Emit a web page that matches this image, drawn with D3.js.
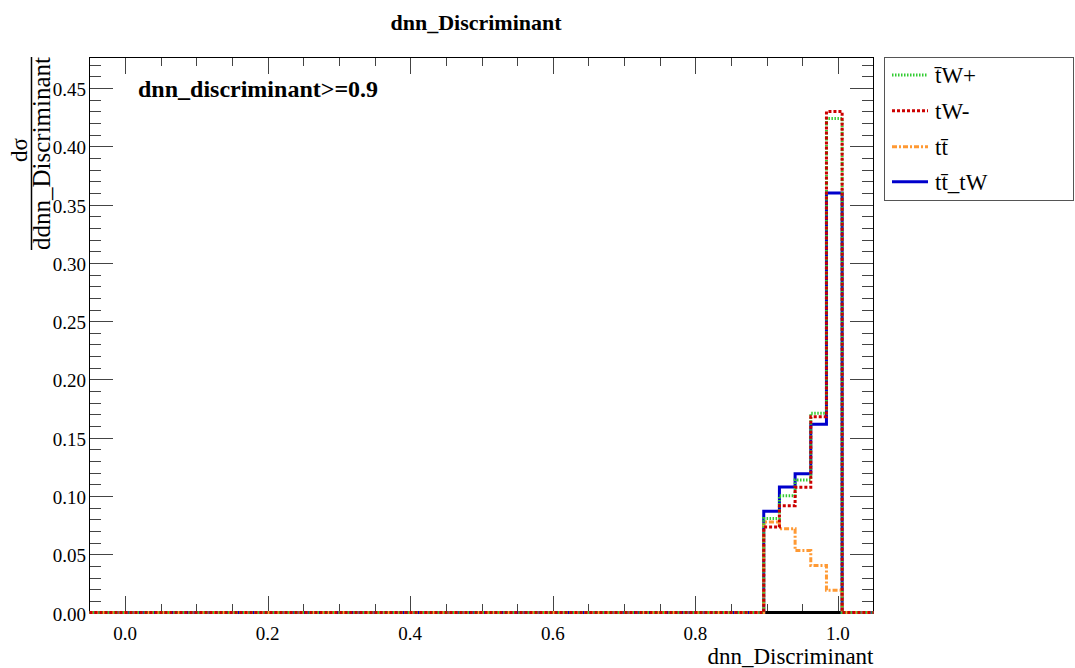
<!DOCTYPE html>
<html>
<head>
<meta charset="utf-8">
<script src="https://cdn.jsdelivr.net/npm/d3@7"></script>
<style>
  html, body { margin: 0; padding: 0; background: #fff; }
  svg { display: block; }
</style>
</head>
<body>
<svg id="chart" width="1075" height="668"></svg>
<script>
// ---------------- data ----------------
const chartTitle = "dnn_Discriminant";
const xLabel = "dnn_Discriminant";
const yNumerator = "dσ";
const yDenominator = "ddnn_Discriminant";
const cutLabel = "dnn_discriminant>=0.9";

const nBins = 50;
const xMin = -0.05;
const xMax = 1.05;
const yMax = 0.4763;

const xTickValues = [0.0, 0.2, 0.4, 0.6, 0.8, 1.0];
const xTickLabels = ["0.0", "0.2", "0.4", "0.6", "0.8", "1.0"];
const yTickValues = [0.00, 0.05, 0.10, 0.15, 0.20, 0.25, 0.30, 0.35, 0.40, 0.45];
const yTickLabels = ["0.00", "0.05", "0.10", "0.15", "0.20", "0.25", "0.30", "0.35", "0.40", "0.45"];

const seriesNames = ["t\u0304W+", "tW-", "tt\u0304", "tt\u0304_tW"];

// bin contents (50 bins from -0.05 to 1.05)
const tWplus = [0,0,0,0,0,0,0,0,0,0, 0,0,0,0,0,0,0,0,0,0, 0,0,0,0,0,0,0,0,0,0, 0,0,0,0,0,0,0,0,0,0, 0,0,0,0.0806,0.1003,0.1137,0.171,0.424,0,0];
const tWminus = [0,0,0,0,0,0,0,0,0,0, 0,0,0,0,0,0,0,0,0,0, 0,0,0,0,0,0,0,0,0,0, 0,0,0,0,0,0,0,0,0,0, 0,0,0,0.0733,0.0916,0.1074,0.168,0.430,0,0];
const ttbar = [0,0,0,0,0,0,0,0,0,0, 0,0,0,0,0,0,0,0,0,0, 0,0,0,0,0,0,0,0,0,0, 0,0,0,0,0,0,0,0,0,0, 0,0,0,0.0777,0.0718,0.0532,0.0404,0.019,0,0];
const tttW = [0,0,0,0,0,0,0,0,0,0, 0,0,0,0,0,0,0,0,0,0, 0,0,0,0,0,0,0,0,0,0, 0,0,0,0,0,0,0,0,0,0, 0,0,0,0.087,0.1078,0.119,0.1616,0.360,0,0];

// ---------------- layout ----------------
const FONT = "Liberation Serif";
const frame = { left: 89.5, right: 873.5, top: 57.5, bottom: 612.5 };
const svg = d3.select("#chart");

const x = d3.scaleLinear().domain([xMin, xMax]).range([frame.left, frame.right]);
const y = d3.scaleLinear().domain([0, yMax]).range([frame.bottom, frame.top]);

const binWidth = (xMax - xMin) / nBins;
const edges = d3.range(nBins + 1).map(i => xMin + i * binWidth);

const styles = [
  { data: tWplus,  color: "#33cc33", dash: "1.5,1.5", name: seriesNames[0] },
  { data: tWminus, color: "#cc0000", dash: "3,2",     name: seriesNames[1] },
  { data: ttbar,   color: "#ff9933", dash: "5,2,2,2", name: seriesNames[2] },
  { data: tttW,    color: "#0000cc", dash: null,      name: seriesNames[3] }
];

// ---------------- frame & ticks ----------------
const W = frame.right - frame.left;
const H = frame.bottom - frame.top;
const yMajorLen = 0.03 * W, yMinorLen = yMajorLen / 2;
const xMajorLen = 0.03 * H, xMinorLen = xMajorLen / 2;

const gAxes = svg.append("g").attr("shape-rendering", "crispEdges");

const yMinor = d3.range(0, yMax, 0.01).filter(v => Math.round(v * 100) % 5 !== 0);
[["left", 1], ["right", -1]].forEach(([side, dir]) => {
  const px = side === "left" ? frame.left : frame.right;
  const axM = dir === 1 ? d3.axisRight(y) : d3.axisLeft(y);
  gAxes.append("g").attr("transform", `translate(${px},0)`)
    .call(axM.tickValues(yTickValues).tickSize(yMajorLen).tickFormat(""))
    .call(g => g.select(".domain").remove());
  const axm = dir === 1 ? d3.axisRight(y) : d3.axisLeft(y);
  gAxes.append("g").attr("transform", `translate(${px},0)`)
    .call(axm.tickValues(yMinor).tickSize(yMinorLen).tickFormat(""))
    .call(g => g.select(".domain").remove());
});

const xMinor = d3.range(0, 1.05, 0.05).filter(v => Math.round(v * 100) % 20 !== 0);
[["bottom", frame.bottom], ["top", frame.top]].forEach(([side, py]) => {
  const axM = side === "bottom" ? d3.axisTop(x) : d3.axisBottom(x);
  gAxes.append("g").attr("transform", `translate(0,${py})`)
    .call(axM.tickValues(xTickValues).tickSize(xMajorLen).tickFormat(""))
    .call(g => g.select(".domain").remove());
  const axm = side === "bottom" ? d3.axisTop(x) : d3.axisBottom(x);
  gAxes.append("g").attr("transform", `translate(0,${py})`)
    .call(axm.tickValues(xMinor).tickSize(xMinorLen).tickFormat(""))
    .call(g => g.select(".domain").remove());
});
gAxes.selectAll(".tick line").attr("stroke", "#444").attr("stroke-width", 1);

gAxes.append("rect")
  .attr("x", frame.left).attr("y", frame.top)
  .attr("width", W).attr("height", H)
  .attr("fill", "none").attr("stroke", "#000").attr("stroke-width", 1);
gAxes.append("line")
  .attr("x1", frame.left).attr("x2", frame.right)
  .attr("y1", frame.bottom).attr("y2", frame.bottom)
  .attr("stroke", "#000").attr("stroke-width", 3);

// tick labels
svg.append("g").selectAll("text").data(yTickValues).join("text")
  .style("font-family", FONT)
  .attr("x", frame.left - 3.5).attr("y", d => y(d) + 8)
  .attr("text-anchor", "end").attr("font-size", 19)
  .text((d, i) => yTickLabels[i]);
svg.append("g").selectAll("text").data(xTickValues).join("text")
  .style("font-family", FONT)
  .attr("x", d => x(d)).attr("y", 640)
  .attr("text-anchor", "middle").attr("font-size", 19)
  .text((d, i) => xTickLabels[i]);

// ---------------- histograms ----------------
const line = d3.line().curve(d3.curveStepAfter).x(d => x(d[0])).y(d => y(d[1]));
const drawOrder = [3, 2, 0, 1];
const gH = svg.append("g");
drawOrder.forEach(k => {
  const s = styles[k];
  const pts = s.data.map((v, i) => [edges[i], v]);
  pts.push([edges[nBins], s.data[nBins - 1]]);
  gH.append("path")
    .attr("d", line(pts))
    .attr("fill", "none")
    .attr("stroke", s.color)
    .attr("stroke-width", 3)
    .attr("stroke-dasharray", s.dash);
});

// ---------------- texts ----------------
svg.append("text").style("font-family", FONT).attr("x", 476).attr("y", 30)
  .attr("text-anchor", "middle").attr("font-size", 22).attr("font-weight", "bold")
  .text(chartTitle);

svg.append("text").style("font-family", FONT).attr("x", frame.right).attr("y", 664)
  .attr("text-anchor", "end").attr("font-size", 23)
  .text(xLabel);

svg.append("text").style("font-family", FONT).attr("x", 138).attr("y", 97)
  .attr("font-size", 24).attr("font-weight", "bold")
  .text(cutLabel);

const yl = svg.append("g");
yl.append("text").style("font-family", FONT).attr("transform", "translate(27,150) rotate(-90)")
  .attr("text-anchor", "middle").attr("font-size", 23).text(yNumerator);
yl.append("line").attr("x1", 31.5).attr("x2", 31.5).attr("y1", 57).attr("y2", 250)
  .attr("stroke", "#000").attr("stroke-width", 1.5);
yl.append("text").style("font-family", FONT).attr("transform", "translate(50,153.5) rotate(-90)")
  .attr("text-anchor", "middle").attr("font-size", 25).text(yDenominator);

// ---------------- legend ----------------
const leg = { x: 884.5, y: 57.5, w: 189, h: 143 };
const gL = svg.append("g");
gL.append("rect").attr("x", leg.x).attr("y", leg.y).attr("width", leg.w).attr("height", leg.h)
  .attr("fill", "#fff").attr("stroke", "#555").attr("stroke-width", 1)
  .attr("shape-rendering", "crispEdges");
const legY = [75, 110.7, 146.7, 181.7];
styles.forEach((s, i) => {
  gL.append("line").attr("x1", 892).attr("x2", 928).attr("y1", legY[i]).attr("y2", legY[i])
    .attr("stroke", s.color).attr("stroke-width", 3).attr("stroke-dasharray", s.dash);
  gL.append("text").style("font-family", FONT).attr("x", 935).attr("y", legY[i] + 8)
    .attr("font-size", 23).text(s.name);
});
</script>
</body>
</html>
